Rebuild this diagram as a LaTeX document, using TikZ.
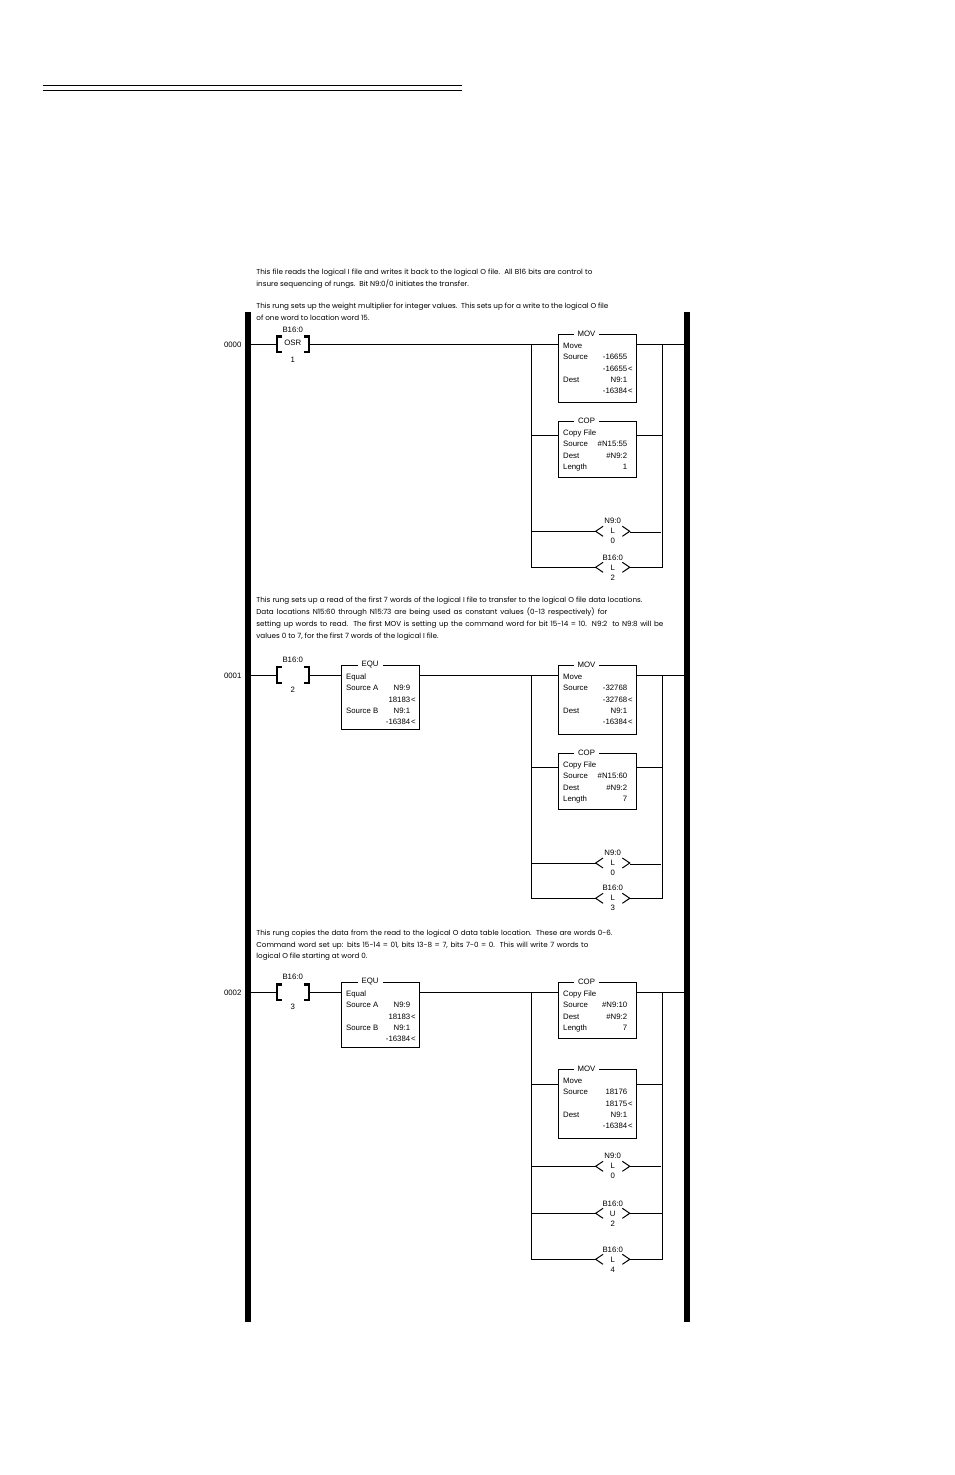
\documentclass[tikz,border=0pt]{standalone}
\usepackage{fontspec}
\setmainfont{Liberation Sans}
\newfontfamily\notefont{Poppins}
\newenvironment{instrtab}{\begin{tabular*}{38.7pt}[t]{@{\hspace{2.2pt}}l@{\extracolsep{\fill}}r@{\hspace{4.5pt}}}}{\end{tabular*}}
\newcommand{\fb}[1]{#1\hspace{.4pt}<\kern-2.7pt}
\tikzset{
  wire/.style={line width=0.5pt},
  rail/.style={fill=black,inner sep=0pt,minimum width=2.8pt,minimum height=505pt},
  instr/.style={draw,line width=0.5pt,inner sep=0pt,anchor=north west,text height=6.9pt,font=\fontsize{3.9}{5.65}\selectfont},
  title/.style={fill=white,inner ysep=0.5pt,inner xsep=2pt,yshift=0.3pt,font=\fontsize{3.9}{5.65}\selectfont},
  contact/.style={align=center,inner sep=0pt,minimum width=15.5pt,font=\fontsize{3.9}{7.5}\selectfont},
  coil/.style={align=center,inner sep=0pt,minimum width=16.65pt,font=\fontsize{3.9}{5}\selectfont},
  rungno/.style={inner sep=0pt,font=\fontsize{3.9}{5}\selectfont},
  note/.style={align=left,anchor=north west,inner sep=0pt,font=\notefont\fontsize{3.6}{5.85}\selectfont},
}
\begin{document}
\begin{tikzpicture}[x=0.5pt,y=-0.5pt]
  \useasboundingbox (0,0) rectangle (954,1475);

  % top rules
  \coordinate (ruleAl) at (42.7,85.3);
  \coordinate (ruleAr) at (461.7,85.3);
  \coordinate (ruleBl) at (42.7,90.3);
  \coordinate (ruleBr) at (461.7,90.3);
  \draw[line width=0.65pt] (ruleAl) -- (ruleAr);
  \draw[line width=0.65pt] (ruleBl) -- (ruleBr);

  % comments
  \node[note] (noteA) at (256,269) {\makebox[168pt][s]{This file reads the logical I file and writes it back to the logical O file.~~All B16 bits are control to}\\insure sequencing of rungs.~~Bit N9:0/0 initiates the transfer.};
  \node[note] (noteB) at (256,303) {\makebox[176pt][s]{This rung sets up the weight multiplier for integer values.~~This sets up for a write to the logical O file}\\of one word to location word 15.};
  \node[note] (noteC) at (256,597) {\makebox[193pt][s]{This rung sets up a read of the first 7 words of the logical I file to transfer to the logical O file data locations.}\\\makebox[175.5pt][s]{Data locations N15:60 through N15:73 are being used as constant values (0-13 respectively) for}\\\makebox[203.5pt][s]{setting up words to read.~~The first MOV is setting up the command word for bit 15-14 = 10.~~N9:2~~to N9:8 will be}\\values 0 to 7, for the first 7 words of the logical I file.};
  \node[note] (noteD) at (256,929.5) {\makebox[178pt][s]{This rung copies the data from the read to the logical O data table location.~~These are words 0-6.}\\\makebox[166pt][s]{Command word set up: bits 15-14 = 01, bits 13-8 = 7, bits 7-0 = 0.~~This will write 7 words to}\\logical O file starting at word 0.};

  % rails
  \node[rail] (railL) at (248,817) {};
  \node[rail] (railR) at (687,817) {};

  % rung 0000
  \node[rungno] (rungA) at (232.7,344.7) {0000};
  \node[contact] (conA) at (292.7,344.3) {B16:0\\\raisebox{1pt}{OSR}\\1};
  \coordinate (tapA) at (531.3,344.3);
  \coordinate (endA) at (662.3,344.3);
  \node[instr,text depth=27.1pt] (movA) at (558.3,334.3) {\begin{instrtab}Move&\\Source&-16655\\&\fb{-16655}\\Dest&N9:1\\&\fb{-16384}\end{instrtab}};
  \node[title] (movAt) at ([xshift=-5.5pt]movA.north) {MOV};
  \coordinate (tapB) at (531.3,435.3);
  \coordinate (endB) at (662.3,435.3);
  \node[instr,text depth=21.1pt] (copA) at (558.3,421.3) {\begin{instrtab}Copy File&\\Source&\#N15:55\\Dest&\#N9:2\\Length&1\end{instrtab}};
  \node[title] (copAt) at ([xshift=-5.5pt]copA.north) {COP};
  \coordinate (tapC) at (531.3,531.3);
  \coordinate (endC) at (660.7,532);
  \node[coil] (coilA) at (612.7,531.3) {N9:0\\L\\0};
  \coordinate (tapD) at (531.3,567.3);
  \coordinate (endD) at (662.3,567.3);
  \node[coil] (coilB) at (612.7,567.3) {B16:0\\L\\2};
  \draw[wire] (railL.east |- conA) -- (conA.west);
  \draw[wire] (conA.east) -- (tapA -| movA.west);
  \draw[wire] (tapA -| movA.east) -- (railR.west |- endA);
  \draw[wire] (tapA) -- (tapD) -- (coilB.west);
  \draw[wire] (coilB.east) -- (endD) -- (endA);
  \draw[wire] (tapB) -- (tapB -| copA.west);
  \draw[wire] (endB -| copA.east) -- (endB);
  \draw[wire] (tapC) -- (coilA.west);
  \draw[wire] (endC -| coilA.east) -- (endC);

  % rung 0001
  \node[rungno] (rungB) at (232.7,675.7) {0001};
  \node[contact] (conB) at (292.7,675) {B16:0\\\mbox{}\\2};
  \node[instr,text depth=24.95pt] (equA) at (341.3,665.3) {\begin{instrtab}Equal&\\Source A&N9:9\\&\fb{18183}\\Source B&N9:1\\&\fb{-16384}\end{instrtab}};
  \node[title] (equAt) at ([xshift=-5.2pt]equA.north) {EQU};
  \coordinate (tapE) at (531.3,675);
  \coordinate (endE) at (662.3,675);
  \node[instr,text depth=27.6pt] (movB) at (558.3,665.3) {\begin{instrtab}Move&\\Source&-32768\\&\fb{-32768}\\Dest&N9:1\\&\fb{-16384}\end{instrtab}};
  \node[title] (movBt) at ([xshift=-5.5pt]movB.north) {MOV};
  \coordinate (tapF) at (531.3,767.3);
  \coordinate (endF) at (662.3,767.3);
  \node[instr,text depth=21.1pt] (copB) at (558.3,753.3) {\begin{instrtab}Copy File&\\Source&\#N15:60\\Dest&\#N9:2\\Length&7\end{instrtab}};
  \node[title] (copBt) at ([xshift=-5.5pt]copB.north) {COP};
  \coordinate (tapG) at (531.3,863);
  \coordinate (endG) at (660.7,864.3);
  \node[coil] (coilC) at (612.7,863) {N9:0\\L\\0};
  \coordinate (tapH) at (531.3,898.3);
  \coordinate (endH) at (662.3,898.3);
  \node[coil] (coilD) at (612.7,898.3) {B16:0\\L\\3};
  \draw[wire] (railL.east |- conB) -- (conB.west);
  \draw[wire] (conB.east) -- (equA.west |- conB);
  \draw[wire] (equA.east |- tapE) -- (tapE -| movB.west);
  \draw[wire] (tapE -| movB.east) -- (railR.west |- endE);
  \draw[wire] (tapE) -- (tapH) -- (coilD.west);
  \draw[wire] (coilD.east) -- (endH) -- (endE);
  \draw[wire] (tapF) -- (tapF -| copB.west);
  \draw[wire] (endF -| copB.east) -- (endF);
  \draw[wire] (tapG) -- (coilC.west);
  \draw[wire] (endG -| coilC.east) -- (endG);

  % rung 0002
  \node[rungno] (rungC) at (232.7,993) {0002};
  \node[contact] (conC) at (292.7,992.3) {B16:0\\\mbox{}\\3};
  \node[instr,text depth=25.6pt] (equB) at (341.3,982.3) {\begin{instrtab}Equal&\\Source A&N9:9\\&\fb{18183}\\Source B&N9:1\\&\fb{-16384}\end{instrtab}};
  \node[title] (equBt) at ([xshift=-5.2pt]equB.north) {EQU};
  \coordinate (tapI) at (531.3,992.3);
  \coordinate (endI) at (662.3,992.3);
  \node[instr,text depth=21.1pt] (copC) at (558.3,982.3) {\begin{instrtab}Copy File&\\Source&\#N9:10\\Dest&\#N9:2\\Length&7\end{instrtab}};
  \node[title] (copCt) at ([xshift=-5.5pt]copC.north) {COP};
  \coordinate (tapJ) at (531.3,1084.3);
  \coordinate (endJ) at (662.3,1084.3);
  \node[instr,text depth=27.6pt] (movC) at (558.3,1069.3) {\begin{instrtab}Move&\\Source&18176\\&\fb{18175}\\Dest&N9:1\\&\fb{-16384}\end{instrtab}};
  \node[title] (movCt) at ([xshift=-5.5pt]movC.north) {MOV};
  \coordinate (tapK) at (531.3,1166.3);
  \coordinate (endK) at (660.7,1166.3);
  \node[coil] (coilE) at (612.7,1166.3) {N9:0\\L\\0};
  \coordinate (tapL) at (531.3,1213.3);
  \coordinate (endL) at (662.3,1213.3);
  \node[coil] (coilF) at (612.7,1213.3) {B16:0\\U\\2};
  \coordinate (tapM) at (531.3,1259.3);
  \coordinate (endM) at (662.3,1259.3);
  \node[coil] (coilG) at (612.7,1259.3) {B16:0\\L\\4};
  \draw[wire] (railL.east |- conC) -- (conC.west);
  \draw[wire] (conC.east) -- (equB.west |- conC);
  \draw[wire] (equB.east |- tapI) -- (tapI -| copC.west);
  \draw[wire] (tapI -| copC.east) -- (railR.west |- endI);
  \draw[wire] (tapI) -- (tapM) -- (coilG.west);
  \draw[wire] (coilG.east) -- (endM) -- (endI);
  \draw[wire] (tapJ) -- (tapJ -| movC.west);
  \draw[wire] (endJ -| movC.east) -- (endJ);
  \draw[wire] (tapK) -- (coilE.west);
  \draw[wire] (coilE.east) -- (endK);
  \draw[wire] (tapL) -- (coilF.west);
  \draw[wire] (coilF.east) -- (endL);

  % contact brackets
  \foreach \c in {conA,conB,conC} {
    \draw[line width=1.1pt] ([xshift=2.4pt,yshift=3.9pt]\c.west) -- ([yshift=3.9pt]\c.west) -- ([yshift=-3.9pt]\c.west) -- ([xshift=2.4pt,yshift=-3.9pt]\c.west);
    \draw[line width=1.1pt] ([xshift=-2.4pt,yshift=3.9pt]\c.east) -- ([yshift=3.9pt]\c.east) -- ([yshift=-3.9pt]\c.east) -- ([xshift=-2.4pt,yshift=-3.9pt]\c.east);
  }
  % coil chevrons
  \foreach \c in {coilA,coilB,coilC,coilD,coilE,coilF,coilG} {
    \draw[wire] ([xshift=3.7pt,yshift=2.5pt]\c.west) -- (\c.west) -- ([xshift=3.7pt,yshift=-2.5pt]\c.west);
    \draw[wire] ([xshift=-3.7pt,yshift=2.5pt]\c.east) -- (\c.east) -- ([xshift=-3.7pt,yshift=-2.5pt]\c.east);
  }
\end{tikzpicture}
\end{document}
